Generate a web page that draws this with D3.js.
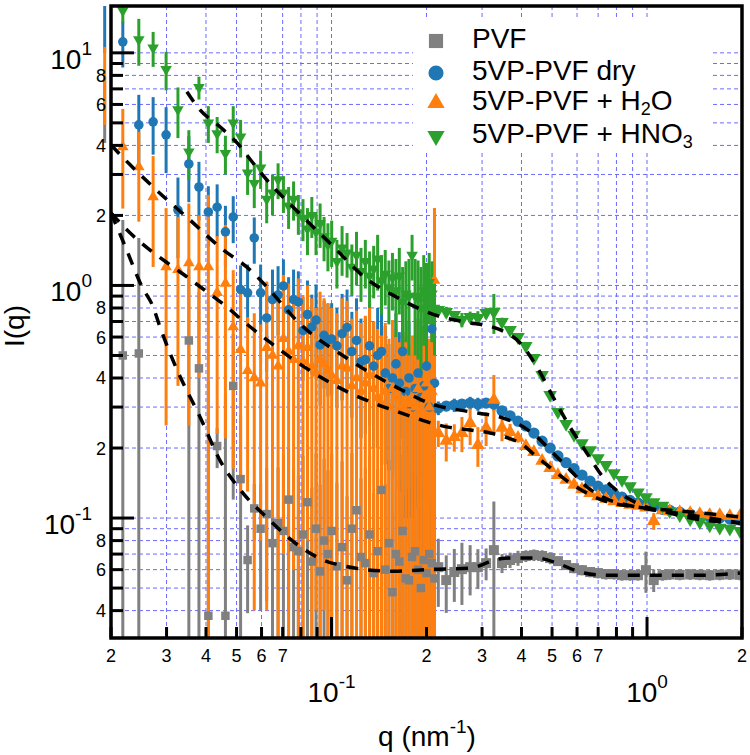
<!DOCTYPE html>
<html>
<head>
<meta charset="utf-8">
<script src="https://cdn.jsdelivr.net/npm/d3@7"></script>
<style>
  body { margin: 0; background: #fff; }
  svg { font-family: "Liberation Sans", Arial, sans-serif; }
</style>
</head>
<body>
<div id="svg1"></div>
<script>
//////SAXS curves of PVF and 5VP-PVF membranes
//////log-log plot, error bars + dashed model fits

///shared q grids (nm^-1), first low q point sits just left of the axis
const qLow = [0.0191, 0.0218, 0.0245, 0.0272, 0.0299, 0.0326, 0.0353, 0.038, 0.0407, 0.0434, 0.0461, 0.0488, 0.0515, 0.0542, 0.0569, 0.0596, 0.0623, 0.065, 0.0677, 0.0704, 0.0731, 0.0758, 0.0785, 0.0812, 0.0839, 0.0866, 0.0893, 0.092, 0.0947, 0.0974, 0.1001, 0.104, 0.108, 0.112, 0.116, 0.12, 0.124, 0.128, 0.132, 0.136, 0.14, 0.144, 0.148, 0.152, 0.156, 0.16, 0.164, 0.168, 0.172, 0.176, 0.18, 0.184, 0.188, 0.192, 0.196, 0.2, 0.204, 0.208, 0.212];
const qHigh = [0.218, 0.231, 0.245, 0.259, 0.275, 0.291, 0.309, 0.327, 0.347, 0.368, 0.39, 0.413, 0.438, 0.465, 0.493, 0.522, 0.554, 0.587, 0.622, 0.66, 0.699, 0.741, 0.786, 0.833, 0.883, 0.936, 0.992, 1.05, 1.12, 1.18, 1.27, 1.37, 1.47, 1.58, 1.70, 1.83, 1.97];

///PVF
const pvfLow = [6, 0.50, 0.51, null, null, null, 0.58, 0.44, 0.038, 0.204, 0.038, 0.37, 0.147, 0.066, 0.11, 0.09, 0.104, 0.078, 0.095, 0.088, 0.12, 0.075, 0.072, 0.085, 0.117, 0.065, 0.09, 0.059, 0.08, 0.07, 0.088, 0.062, 0.075, 0.054, 0.09, 0.108, 0.068, 0.064, 0.085, 0.058, 0.072, 0.132, 0.06, 0.078, 0.048, 0.07, 0.065, 0.088, 0.055, 0.054, 0.068, 0.072, 0.06, 0.05, 0.066, 0.058, 0.07, 0.064, 0.055];
const pvfLowErr = [1.9, 1.41, 1.09, null, null, null, 0.6, 0.5, 0.35, 0.04, 0.3, 0.25, 0.13, 0.027, 0.03, 0.05, 0.06, 0.08, 0.07, 0.1, 0.08, 0.09, 0.08, 0.1, 0.09, 0.07, 0.1, 0.08, 0.1, 0.09, 0.1, 0.08, 0.1, 0.07, 0.1, 0.09, 0.08, 0.1, 0.1, 0.07, 0.09, 0.1, 0.08, 0.1, 0.06, 0.09, 0.08, 0.1, 0.07, 0.08, 0.09, 0.08, 0.07, 0.06, 0.07, 0.06, 0.05, 0.04, 0.03];
const pvfHigh = [0.0615, 0.0541, 0.0586, 0.0603, 0.0615, 0.0615, 0.064, 0.0728, 0.064, 0.066, 0.0673, 0.0687, 0.0693, 0.0687, 0.0673, 0.0653, 0.0628, 0.0609, 0.0597, 0.0586, 0.058, 0.0574, 0.0574, 0.0568, 0.0568, 0.0568, 0.0597, 0.0541, 0.0568, 0.0572, 0.057, 0.0572, 0.057, 0.0568, 0.057, 0.0572, 0.057];
const pvfHighErr = [0.02, 0.015, 0.015, 0.018, 0.015, 0.012, 0.01, 0.045, 0.006, 0.005, 0.005, 0.004, 0.004, 0.004, 0.004, 0.003, 0.003, 0.003, 0.003, 0.003, 0.003, 0.003, 0.003, 0.003, 0.003, 0.003, 0.012, 0.006, 0.003, 0.003, 0.003, 0.003, 0.003, 0.003, 0.003, 0.003, 0.003];

///5VP-PVF dry
const dryLow = [14, 11.15, 4.9, 5.05, 4.44, 2.11, 3.33, 2.65, 2.07, 2.17, 1.70, 1.97, 0.96, 0.93, 1.6, 0.93, 0.725, 0.87, 0.91, 0.995, 0.785, 0.87, 0.85, 0.64, 0.75, 0.663, 0.71, 0.555, 0.61, 0.583, 0.589, 0.55, 0.62, 0.66, 0.52, 0.58, 0.47, 0.48, 0.55, 0.45, 0.5, 0.52, 0.42, 0.36, 0.40, 0.46, 0.38, 0.52, 0.35, 0.4, 0.30, 0.36, 0.42, 0.33, 0.37, 0.45, 0.3, 0.65, 0.38];
const dryLowErr = [4, 2.5, 1.7, 1.4, 1.4, 0.8, 1.05, 0.75, 0.6, 0.55, 0.5, 0.45, 0.26, 0.3, 0.36, 0.3, 0.3, 0.3, 0.3, 0.3, 0.3, 0.3, 0.3, 0.25, 0.3, 0.25, 0.3, 0.25, 0.25, 0.25, 0.25, 0.25, 0.3, 0.3, 0.25, 0.3, 0.25, 0.25, 0.3, 0.25, 0.3, 0.3, 0.25, 0.2, 0.25, 0.3, 0.25, 0.3, 0.25, 0.3, 0.2, 0.25, 0.3, 0.25, 0.3, 0.3, 0.25, 0.35, 0.3];
const dryHigh = [0.297, 0.303, 0.306, 0.309, 0.312, 0.309, 0.312, 0.309, 0.289, 0.275, 0.261, 0.249, 0.232, 0.214, 0.200, 0.185, 0.173, 0.163, 0.153, 0.144, 0.137, 0.132, 0.127, 0.123, 0.119, 0.116, 0.114, 0.112, 0.109, 0.108, 0.106, 0.104, 0.102, 0.101, 0.100, 0.099, 0.098];
const dryHighErr = [0.02, 0.015, 0.02, 0.015, 0.02, 0.02, 0.015, 0.02, 0.01, 0.008, 0.006, 0.005, 0.005, 0.004, 0.004, 0.004, 0.003, 0.003, 0.003, 0.003, 0.003, 0.003, 0.002, 0.002, 0.002, 0.002, 0.002, 0.002, 0.002, 0.002, 0.002, 0.002, 0.002, 0.002, 0.002, 0.002, 0.002];

///5VP-PVF + H2O
const h2oLow = [7.75, 3.94, 3.23, 2.40, 1.20, 1.17, 1.25, 1.20, 1.2, 0.93, 1.02, 0.663, 0.53, 0.43, 0.40, 0.38, 0.54, 0.50, 0.45, 0.59, 0.52, 0.48, 0.55, 0.47, 0.54, 0.45, 0.42, 0.48, 0.46, 0.43, 0.41, 0.39, 0.45, 0.44, 0.37, 0.40, 0.35, 0.38, 0.41, 0.36, 0.33, 0.31, 0.35, 0.3, 0.36, 0.33, 0.29, 0.3, 0.32, 0.28, 0.31, 0.3, 0.36, 0.28, 0.33, 0.38, 0.3, 0.35, 1.05];
const h2oLowErr = [2.85, 1.8, 1.35, 1.2, 0.95, 0.8, 1.0, 0.8, 1.25, 0.7, 0.8, 0.5, 0.4, 0.3, 0.36, 0.3, 0.5, 0.4, 0.42, 0.52, 0.5, 0.42, 0.52, 0.44, 0.46, 0.43, 0.38, 0.46, 0.42, 0.41, 0.39, 0.37, 0.43, 0.42, 0.35, 0.38, 0.34, 0.36, 0.4, 0.34, 0.32, 0.3, 0.34, 0.29, 0.35, 0.32, 0.28, 0.29, 0.31, 0.27, 0.3, 0.29, 0.35, 0.27, 0.32, 0.37, 0.29, 0.34, 1.1];
const h2oHigh = [0.232, 0.215, 0.223, 0.232, 0.256, 0.206, 0.244, 0.322, 0.244, 0.234, 0.221, 0.204, 0.192, 0.176, 0.164, 0.153, 0.146, 0.139, 0.133, 0.128, 0.124, 0.121, 0.118, 0.116, 0.114, 0.113, 0.111, 0.097, 0.108, 0.107, 0.106, 0.105, 0.104, 0.103, 0.103, 0.102, 0.102];
const h2oHighErr = [0.03, 0.04, 0.03, 0.04, 0.05, 0.04, 0.04, 0.09, 0.03, 0.02, 0.01, 0.008, 0.006, 0.005, 0.005, 0.004, 0.004, 0.003, 0.003, 0.003, 0.003, 0.003, 0.002, 0.002, 0.002, 0.002, 0.002, 0.008, 0.002, 0.002, 0.002, 0.002, 0.002, 0.002, 0.002, 0.002, 0.002];

///5VP-PVF + HNO3
const hno3Low = [null, 15.2, 11.4, 10.5, 8.5, 5.7, 3.75, 7.1, 5.0, 4.5, 3.7, 5.0, 4.35, 3.05, 2.75, 3.2, 2.35, 2.5, 2.85, 2.5, 2.2, 2.35, 2.05, 1.95, 1.75, 2.0, 1.7, 1.85, 1.62, 1.5, 1.55, 1.27, 1.45, 1.38, 1.2, 1.35, 1.15, 1.27, 1.1, 1.18, 1.3, 1.05, 1.12, 0.98, 1.08, 0.95, 1.1, 0.85, 0.92, 0.9, 1.35, 0.9, 0.88, 0.8, 0.95, 0.85, 1.03, 0.92, 0.8];
const hno3LowErr = [null, 1.7, 2.6, 1.8, 1.6, 1.4, 0.9, 0.8, 0.9, 0.8, 0.7, 0.9, 0.8, 0.6, 0.6, 0.6, 0.5, 0.5, 0.5, 0.45, 0.45, 0.45, 0.4, 0.4, 0.4, 0.4, 0.35, 0.4, 0.35, 0.35, 0.35, 0.3, 0.35, 0.3, 0.3, 0.35, 0.3, 0.3, 0.3, 0.3, 0.35, 0.3, 0.3, 0.3, 0.3, 0.35, 0.35, 0.35, 0.35, 0.4, 0.3, 0.4, 0.4, 0.4, 0.4, 0.4, 0.35, 0.35, 0.3];
const hno3High = [0.785, 0.769, 0.747, 0.711, 0.732, 0.725, 0.762, 0.769, 0.697, 0.644, 0.600, 0.549, 0.488, 0.412, 0.338, 0.286, 0.254, 0.228, 0.210, 0.196, 0.181, 0.169, 0.156, 0.146, 0.137, 0.129, 0.123, 0.117, 0.113, 0.107, 0.103, 0.099, 0.096, 0.093, 0.091, 0.090, 0.088];
const hno3HighErr = [0.03, 0.04, 0.03, 0.05, 0.04, 0.05, 0.04, 0.15, 0.03, 0.02, 0.02, 0.015, 0.015, 0.01, 0.01, 0.008, 0.008, 0.007, 0.006, 0.006, 0.005, 0.005, 0.005, 0.004, 0.004, 0.004, 0.004, 0.003, 0.003, 0.003, 0.003, 0.003, 0.003, 0.003, 0.003, 0.003, 0.003];

///model fits (dashed black)
const pvfFitQ = [0.02, 0.0221, 0.0251, 0.0272, 0.0286, 0.0324, 0.0383, 0.0443, 0.0524, 0.0624, 0.0783, 0.1003, 0.1555, 0.218, 0.275, 0.337, 0.376, 0.448, 0.518, 0.613, 0.725, 0.929, 1.504, 1.97];
const pvfFitI = [2.05, 1.49, 0.985, 0.808, 0.663, 0.433, 0.272, 0.177, 0.128, 0.1005, 0.0765, 0.064, 0.0591, 0.0603, 0.0609, 0.0666, 0.0673, 0.0673, 0.064, 0.0586, 0.0568, 0.0568, 0.0568, 0.058];
const dryFitQ = [0.02, 0.023, 0.0272, 0.0356, 0.0443, 0.0552, 0.0624, 0.0783, 0.1128, 0.1625, 0.208, 0.275, 0.350, 0.396, 0.448, 0.504, 0.570, 0.645, 0.725, 0.929, 1.183, 1.504, 1.97];
const dryFitI = [4.02, 3.30, 2.65, 1.91, 1.46, 1.166, 0.985, 0.697, 0.483, 0.362, 0.309, 0.286, 0.269, 0.251, 0.223, 0.190, 0.161, 0.136, 0.123, 0.1115, 0.106, 0.101, 0.0952];
const h2oFitQ = [0.02, 0.023, 0.0266, 0.0308, 0.0351, 0.0403, 0.0466, 0.0524, 0.0624, 0.0783, 0.1128, 0.1625, 0.234, 0.275, 0.318, 0.355, 0.396, 0.448, 0.504, 0.570, 0.645, 0.725, 0.929, 1.183, 1.504, 1.97];
const h2oFitI = [2.05, 1.68, 1.42, 1.225, 1.08, 0.938, 0.808, 0.704, 0.583, 0.465, 0.348, 0.286, 0.246, 0.239, 0.232, 0.223, 0.210, 0.183, 0.161, 0.1415, 0.128, 0.119, 0.1115, 0.108, 0.105, 0.101];
const hno3FitQ = [0.0348, 0.0383, 0.0443, 0.0502, 0.0564, 0.0624, 0.0783, 0.1003, 0.1277, 0.1625, 0.1935, 0.218, 0.265, 0.337, 0.396, 0.448, 0.504, 0.570, 0.645, 0.725, 0.821, 0.929, 1.183, 1.504, 1.97];
const hno3FitI = [6.80, 5.68, 4.81, 4.10, 3.36, 2.84, 2.07, 1.49, 1.08, 0.884, 0.785, 0.739, 0.697, 0.650, 0.566, 0.446, 0.331, 0.246, 0.190, 0.150, 0.128, 0.116, 0.105, 0.098, 0.0952];

///ticks and their labels
const xTicks = [0.02, 0.03, 0.04, 0.05, 0.06, 0.07, 0.08, 0.09, 0.1, 0.2, 0.3, 0.4, 0.5, 0.6, 0.7, 0.8, 0.9, 1, 2];
const xTickText = ["2", "3", "4", "5", "6", "7", "", "", "", "2", "3", "4", "5", "6", "7", "", "", "", "2"];
const xDecades = [0.1, 1];
const xDecadeExp = ["-1", "0"];
const yTicks = [0.04, 0.05, 0.06, 0.07, 0.08, 0.09, 0.1, 0.2, 0.3, 0.4, 0.5, 0.6, 0.7, 0.8, 0.9, 1, 2, 3, 4, 5, 6, 7, 8, 9, 10];
const yTickText = ["4", "", "6", "", "8", "", "", "2", "", "4", "", "6", "", "8", "", "", "2", "", "4", "", "6", "", "8", "", ""];
const yDecades = [0.1, 1, 10];
const yDecadeExp = ["-1", "0", "1"];

///legend labels, odd parts are subscripts
const legendText = [["PVF"], ["5VP-PVF dry"], ["5VP-PVF + H", "2", "O"], ["5VP-PVF + HNO", "3"]];

const series = [
  {color: "#808080", shape: "square", low: pvfLow, lowErr: pvfLowErr, high: pvfHigh, highErr: pvfHighErr, fq: pvfFitQ, fi: pvfFitI},
  {color: "#1f77b4", shape: "circle", low: dryLow, lowErr: dryLowErr, high: dryHigh, highErr: dryHighErr, fq: dryFitQ, fi: dryFitI},
  {color: "#ff7f0e", shape: "up", low: h2oLow, lowErr: h2oLowErr, high: h2oHigh, highErr: h2oHighErr, fq: h2oFitQ, fi: h2oFitI},
  {color: "#2ca02c", shape: "down", low: hno3Low, lowErr: hno3LowErr, high: hno3High, highErr: hno3HighErr, fq: hno3FitQ, fi: hno3FitI}
];

var width = 750, height = 755;
var plot = {left: 111, right: 742, top: 6, bottom: 638};

var x = d3.scaleLog().domain([0.02, 2]).range([plot.left, plot.right]);
var y = d3.scaleLog().domain([0.0305, 15.9]).range([plot.bottom, plot.top]);

var svg = d3.select("#svg1").append("svg")
    .attr("width", width)
    .attr("height", height);

var defs = svg.append("defs");
defs.append("clipPath").attr("id", "clipData").append("rect")
    .attr("x", plot.left).attr("y", plot.top)
    .attr("width", plot.right - plot.left).attr("height", plot.bottom - plot.top);
////error bars are only clipped top/bottom (igor draws them left of the axis)
defs.append("clipPath").attr("id", "clipBars").append("rect")
    .attr("x", 0).attr("y", plot.top)
    .attr("width", plot.right).attr("height", plot.bottom - plot.top);

////grid
var grid = svg.append("g");
grid.selectAll(".gx").data(xTicks).enter().append("line")
    .attr("x1", d => x(d)).attr("x2", d => x(d))
    .attr("y1", plot.top).attr("y2", plot.bottom)
    .style("stroke", "#6b6bff").style("stroke-width", 1).style("stroke-dasharray", "4,3");
grid.selectAll(".gy").data(yTicks).enter().append("line")
    .attr("x1", plot.left).attr("x2", plot.right)
    .attr("y1", d => y(d)).attr("y2", d => y(d))
    .style("stroke", "#6b6bff").style("stroke-width", 1).style("stroke-dasharray", "4,3");

////legend background hides the grid
svg.append("rect").attr("x", 413).attr("y", 20).attr("width", 297).attr("height", 133).style("fill", "#fff");

series.forEach(s => {
  s.points = [];
  qLow.forEach((q, i) => { if (s.low[i] != null) s.points.push({q: q, I: s.low[i], e: s.lowErr[i], hi: false}); });
  qHigh.forEach((q, i) => s.points.push({q: q, I: s.high[i], e: s.highErr[i], hi: true}));
});

function symbolFor(shape, size) {
  var t = shape == "square" ? d3.symbolSquare : shape == "circle" ? d3.symbolCircle : d3.symbolTriangle;
  return d3.symbol().type(t).size(size)();
}

////error bars first, for all series
var bars = svg.append("g").attr("clip-path", "url(#clipBars)");
series.forEach(s => {
  bars.append("g").selectAll("line").data(s.points).enter().append("line")
      .attr("x1", d => x(d.q)).attr("x2", d => x(d.q))
      .attr("y1", d => y(d.I + d.e))
      .attr("y2", d => (d.I - d.e) > 0.0305 ? y(d.I - d.e) : plot.bottom + 10)
      .style("stroke", s.color).style("stroke-width", 3);
});

////markers (bigger in the dense high q part)
var marks = svg.append("g").attr("clip-path", "url(#clipData)");
series.forEach(s => {
  var szLow = s.shape == "square" ? 72 : s.shape == "circle" ? 72 : 58;
  var szHigh = s.shape == "square" ? 100 : s.shape == "circle" ? 100 : 80;
  marks.append("g").selectAll("path").data(s.points).enter().append("path")
      .attr("d", d => symbolFor(s.shape, d.hi ? szHigh : szLow))
      .attr("transform", d => `translate(${x(d.q)},${y(d.I)})` + (s.shape == "down" ? " rotate(180)" : ""))
      .style("fill", s.color);
});

////dashed fits on top
var line = d3.line().x(d => x(d[0])).y(d => y(d[1])).curve(d3.curveMonotoneX);
var fits = svg.append("g").attr("clip-path", "url(#clipData)");
series.forEach(s => {
  fits.append("path")
      .attr("d", line(s.fq.map((q, i) => [q, s.fi[i]])))
      .style("fill", "none").style("stroke", "#000")
      .style("stroke-width", 3.5).style("stroke-dasharray", "12,10");
});

////axes frame and ticks
var axes = svg.append("g");
axes.append("rect")
    .attr("x", plot.left).attr("y", plot.top)
    .attr("width", plot.right - plot.left).attr("height", plot.bottom - plot.top)
    .style("fill", "none").style("stroke", "#000").style("stroke-width", 3.5);

axes.selectAll(".tx").data(xTicks).enter().append("line")
    .attr("x1", d => x(d)).attr("x2", d => x(d))
    .attr("y1", plot.bottom)
    .attr("y2", d => plot.bottom - (xDecades.indexOf(d) >= 0 ? 21 : 11))
    .style("stroke", "#000").style("stroke-width", 3);
axes.selectAll(".ty").data(yTicks).enter().append("line")
    .attr("y1", d => y(d)).attr("y2", d => y(d))
    .attr("x1", plot.left)
    .attr("x2", d => plot.left + (yDecades.indexOf(d) >= 0 ? 23 : 12))
    .style("stroke", "#000").style("stroke-width", 3);

////tick labels
axes.selectAll(".lx").data(xTicks).enter().append("text")
    .text((d, i) => xTickText[i])
    .attr("x", d => x(d)).attr("y", 662)
    .attr("text-anchor", "middle")
    .style("font-size", "18px");
axes.selectAll(".ly").data(yTicks).enter().append("text")
    .text((d, i) => yTickText[i])
    .attr("x", 106).attr("y", d => y(d)).attr("dy", "0.36em")
    .attr("text-anchor", "end")
    .style("font-size", "18px");

xDecades.forEach((d, i) => {
  var t = axes.append("text").attr("x", x(d)).attr("y", 702)
      .attr("text-anchor", "middle").style("font-size", "28px");
  t.append("tspan").text("10");
  t.append("tspan").text(xDecadeExp[i]).attr("dy", -14).style("font-size", "19px");
});
yDecades.forEach((d, i) => {
  var t = axes.append("text").attr("x", 92).attr("y", y(d) + 16)
      .attr("text-anchor", "end").style("font-size", "28px");
  t.append("tspan").text("10");
  t.append("tspan").text(yDecadeExp[i]).attr("dy", -14).style("font-size", "19px");
});

////axis titles
svg.append("text")
    .attr("transform", "translate(24,326) rotate(-90)")
    .attr("text-anchor", "middle")
    .style("font-size", "28px")
    .text("I(q)");
var xt = svg.append("text").attr("x", 427).attr("y", 746)
    .attr("text-anchor", "middle").style("font-size", "28px");
xt.append("tspan").text("q (nm");
xt.append("tspan").text("-1").attr("dy", -13).style("font-size", "19px");
xt.append("tspan").text(")").attr("dy", 13);

////legend
var legendY = [48, 80, 110, 143];
var legend = svg.append("g");
series.forEach((s, i) => {
  var sz = s.shape == "square" ? 200 : s.shape == "circle" ? 180 : 130;
  legend.append("path")
      .attr("d", symbolFor(s.shape, sz))
      .attr("transform", `translate(436,${legendY[i] - 7})` + (s.shape == "down" ? " rotate(180)" : ""))
      .style("fill", s.color);
  var t = legend.append("text").attr("x", 472).attr("y", legendY[i]).style("font-size", "28px");
  legendText[i].forEach((p, j) => {
    var ts = t.append("tspan").text(p);
    if (j % 2 == 1) ts.attr("dy", 5).style("font-size", "18px");
    else if (j > 0) ts.attr("dy", -5);
  });
});
</script>
</body>
</html>
